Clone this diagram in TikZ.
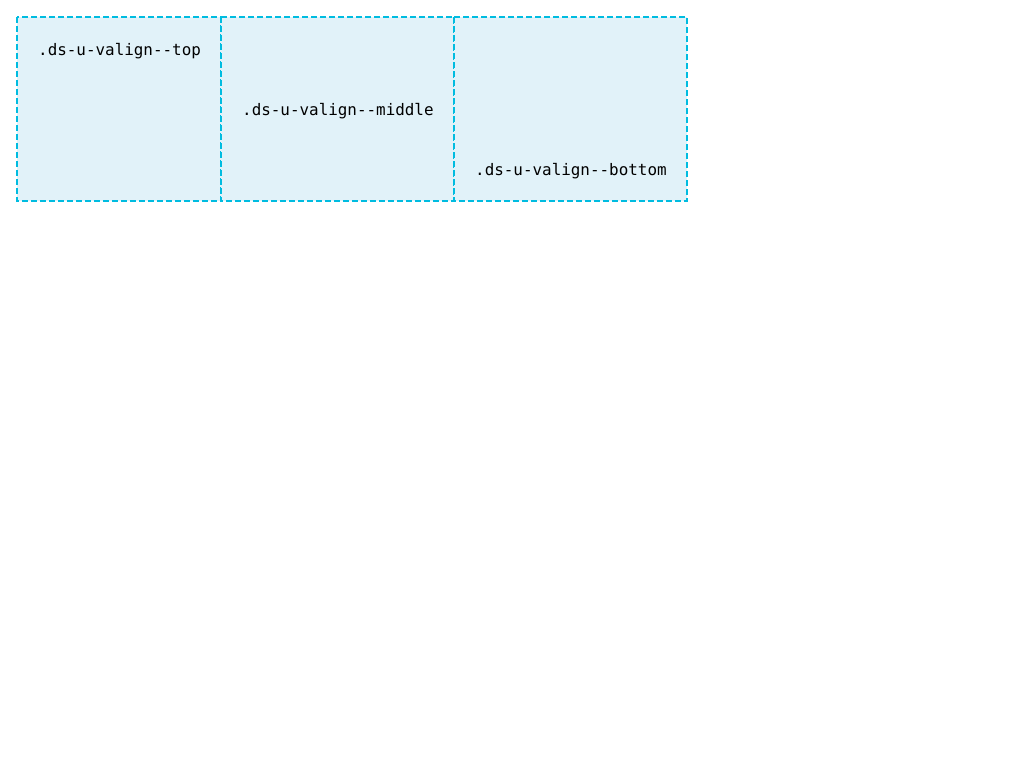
\documentclass[tikz,border=0pt]{standalone}
\usepackage{fontspec}
\setmonofont{DejaVu Sans Mono}
\definecolor{cellfill}{HTML}{E1F2F9}
\definecolor{cellline}{HTML}{00BCE0}
\begin{document}
\begin{tikzpicture}[x=1pt,y=-1pt,
  cellbox/.style={draw=cellline,fill=cellfill,line width=2pt,dash pattern=on 6pt off 3pt},
  celltext/.style={anchor=west,inner sep=0pt,font=\ttfamily\fontsize{15.9}{18}\selectfont}]
\useasboundingbox (0,0) rectangle (1024,768);
\fill[white] (0,0) rectangle (1024,768);
\draw[cellbox] (17,17) rectangle (221,201);
\draw[cellbox] (221,17) rectangle (454,201);
\draw[cellbox] (454,17) rectangle (687,201);
\node[celltext] (t1) at (38,51) {.ds-u-valign--top};
\node[celltext] (t2) at (242,111) {.ds-u-valign--middle};
\node[celltext] (t3) at (475,171) {.ds-u-valign--bottom};
\end{tikzpicture}
\end{document}
